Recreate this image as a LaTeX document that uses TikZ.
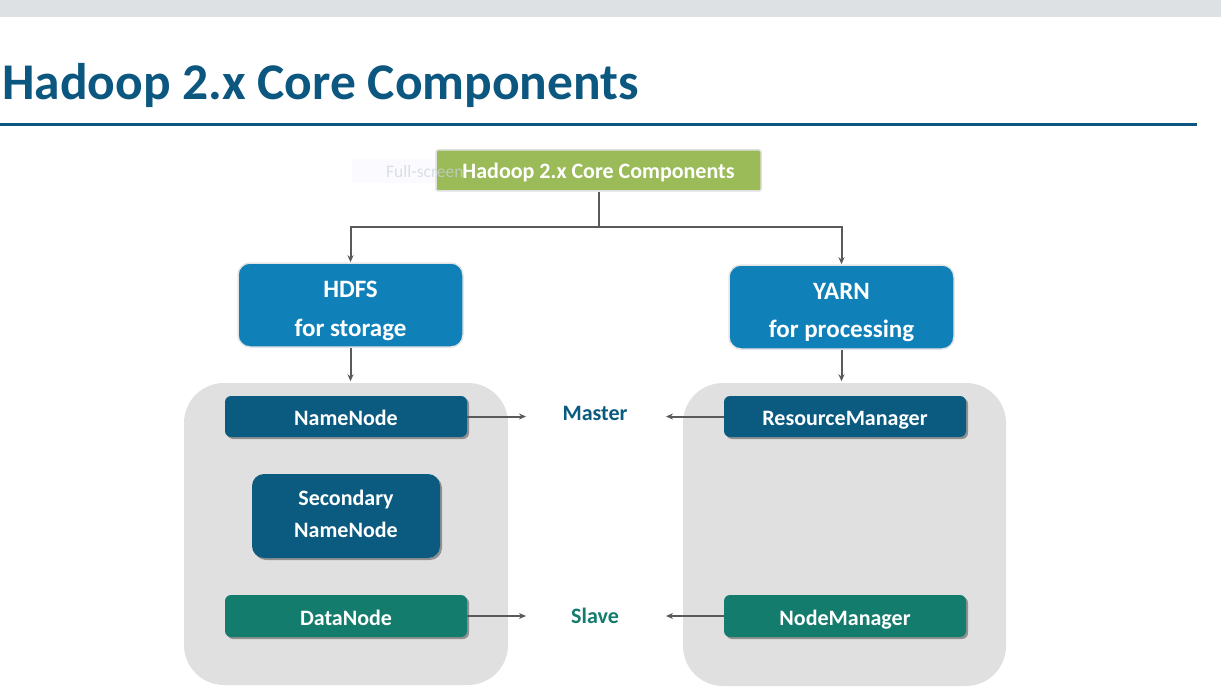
\documentclass[tikz,border=0pt]{standalone}
\usepackage{fontspec}
\setmainfont{Carlito}
\usetikzlibrary{arrows.meta,shadows}

\definecolor{titleblue}{HTML}{0B5780}
\definecolor{bandgray}{HTML}{DEE1E4}
\definecolor{rootgreen}{HTML}{9BBB59}
\definecolor{layerblue}{HTML}{1080B8}
\definecolor{darkblue}{HTML}{0B5A80}
\definecolor{teal}{HTML}{137C6D}
\definecolor{groupgray}{HTML}{E0E0E0}
\definecolor{linkgray}{HTML}{5A5A5A}
\definecolor{tipgray}{HTML}{CDD3DA}

\tikzset{
  boxtext/.style={text=white, font=\bfseries\fontsize{22}{26}\selectfont},
  rootbox/.style={boxtext, rectangle, rounded corners=2pt, fill=rootgreen,
    draw=black!12, line width=1.5pt, minimum width=325pt, minimum height=41pt,
    inner sep=0pt, text height=16.5pt, text depth=0pt},
  layerbox/.style={rectangle, rounded corners=12pt, fill=layerblue, draw=black!10,
    line width=1.5pt, minimum width=225pt, minimum height=84pt, inner sep=0pt},
  layertext/.style={text=white, align=center, inner sep=0pt, anchor=base,
    font=\bfseries\fontsize{25}{38.5}\selectfont},
  group/.style={rectangle, rounded corners=40pt, fill=groupgray, inner sep=0pt},
  daemon/.style={boxtext, rectangle, rounded corners=6pt, minimum width=242pt,
    minimum height=41pt, inner sep=0pt, text height=18pt, text depth=0pt,
    drop shadow={shadow xshift=2pt, shadow yshift=-2pt, opacity=0.35, fill=black}},
  masterbox/.style={daemon, fill=darkblue},
  slavebox/.style={daemon, fill=teal},
  daemontext/.style={text=white, align=center, inner sep=0pt, anchor=base,
    font=\bfseries\fontsize{22}{31.6}\selectfont},
  rolelabel/.style={font=\bfseries\fontsize{22}{26}\selectfont, inner sep=0pt, anchor=base},
  arr/.style={draw=linkgray, line width=2pt, -{Stealth[length=7pt,width=6pt]}},
}

\begin{document}
\begin{tikzpicture}[x=1pt, y=-1pt]
\useasboundingbox (0,0) rectangle (1221,687);

% header band, heading and rule
\fill[bandgray] (0,0) rectangle (1221,17);
\node[anchor=base west, inner sep=0pt, text=titleblue,
      font=\bfseries\fontsize{51.5}{60}\selectfont] (heading) at (2,99.5)
      {Hadoop 2.x Core Components};
\draw[titleblue, line width=2.2pt] (0,124.5) -- (1197,124.5);

% faint tooltip behind the root box
\node[rectangle, fill=blue!2, minimum width=120pt, minimum height=24pt, inner sep=0pt]
      (tipbg) at (412,171) {};

% group backgrounds
\node[group, minimum width=324pt, minimum height=302pt] (hdfsgroup) at (346,534) {};
\node[group, minimum width=323pt, minimum height=303pt] (yarngroup) at (844.5,534.5) {};

% root and layers
\node[rootbox] (root) at (598.5,170.5) {Hadoop 2.x Core Components};
\node[anchor=base west, inner sep=0pt, text=tipgray, opacity=0.7,
      font=\fontsize{17.5}{20}\selectfont] (tip) at (386,178) {Full-screen};

\node[layerbox] (hdfs) at (350.5,305) {};
\node[layertext] (hdfstext) at (350.5,336) {HDFS\\for storage};
\node[layerbox] (yarn) at (841.5,307) {};
\node[layertext] (yarntext) at (841.5,337.5) {YARN\\for processing};

% daemons
\node[masterbox] (namenode) at (346,416.5) {NameNode};
\node[masterbox, minimum width=188pt, minimum height=84pt, rounded corners=12pt]
      (secondary) at (346,516) {};
\node[daemontext] (secondarytext) at (346,537.3) {Secondary\\NameNode};
\node[slavebox, minimum height=42pt] (datanode) at (346,616) {DataNode};
\node[masterbox] (rm) at (845,416.5) {ResourceManager};
\node[slavebox, minimum height=42pt] (nm) at (845,616) {NodeManager};

% roles
\node[rolelabel, text=darkblue] (master) at (595,420) {Master};
\node[rolelabel, text=teal] (slave) at (595,623) {Slave};

% connectors
\coordinate (split) at (598.5,227);
\draw[arr] (root.south) -- (split) -| (hdfs.north);
\draw[arr] (split) -| (yarn.north);
\draw[arr, shorten >=1.5pt] (hdfs.south) -- (hdfs.south |- hdfsgroup.north);
\draw[arr, shorten >=1.5pt] (yarn.south) -- (yarn.south |- yarngroup.north);

\coordinate (mL) at (526,416.5);
\coordinate (mR) at (666,416.5);
\coordinate (sL) at (526,616);
\coordinate (sR) at (666,616);
\draw[arr] (namenode.east) -- (mL);
\draw[arr] (rm.west) -- (mR);
\draw[arr] (datanode.east) -- (sL);
\draw[arr] (nm.west) -- (sR);
\end{tikzpicture}
\end{document}
